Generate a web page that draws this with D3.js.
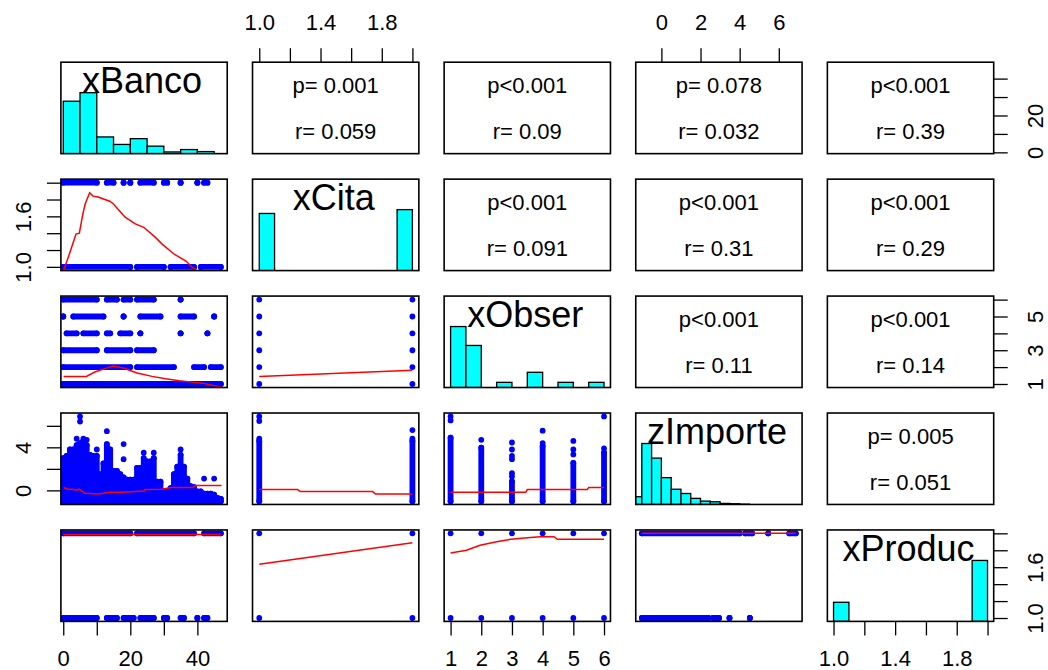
<!DOCTYPE html>
<html lang="es">
<head>
<meta charset="UTF-8">
<title>pairs.panels</title>
<script src="https://d3js.org/d3.v7.min.js"></script>
<style>
  body { margin: 0; background: #fff; }
  svg text { font-family: "Liberation Sans", Arial, sans-serif; fill: #000; }
</style>
</head>
<body>
<div id="grafico"></div>
<script>
const ancho = 1048, alto = 670;

const variables = ["xBanco", "xCita", "xObser", "zImporte", "xProduc"];

// rango visible de cada variable (usr de R)
const dominioBanco = [-0.7, 48.9];
const dominioCita = [0.956, 2.042];
const dominioObser = [0.79, 6.21];
const dominioImporte = [-1.31, 7.19];
const dominioProduc = [0.96, 2.04];
const dominios = [dominioBanco, dominioCita, dominioObser, dominioImporte, dominioProduc];

// histogramas: [desde, hasta, altura relativa]
const histBanco = [[0,5,0.86],[5,10,1],[10,15,0.274],[15,20,0.151],[20,25,0.246],[25,30,0.123],[30,35,0.028],[35,40,0.067],[40,45,0.034]];
const histCita = [[1,1.1,0.937],[1.9,2,1]];
const histObser = [[1,1.5,1],[1.5,2,0.69],[2.5,3,0.085],[3.5,4,0.25],[4.5,5,0.085],[5.5,6,0.085]];
const histImporte = [[-1.5,-1,0.127],[-1,-0.5,1],[-0.5,0,0.76],[0,0.5,0.44],[0.5,1,0.25],[1,1.5,0.18],[1.5,2,0.10],[2,2.5,0.055],[2.5,3,0.044],[3,3.5,0.017],[3.5,4,0.012],[4,4.5,0.005]];
const histProduc = [[1,1.1,0.314],[1.9,2,1]];
const histogramas = [histBanco, histCita, histObser, histImporte, histProduc];

// panel superior: [fila, columna, p, r]
const correlaciones = [
  [0,1,"p= 0.001","r= 0.059"],[0,2,"p<0.001","r= 0.09"],[0,3,"p= 0.078","r= 0.032"],[0,4,"p<0.001","r= 0.39"],
  [1,2,"p<0.001","r= 0.091"],[1,3,"p<0.001","r= 0.31"],[1,4,"p<0.001","r= 0.29"],
  [2,3,"p<0.001","r= 0.11"],[2,4,"p<0.001","r= 0.14"],
  [3,4,"p= 0.005","r= 0.051"]
];

// tramos horizontales de puntos: [y, x desde, x hasta]
const citaPorBanco = [[2,0,10],[2,13,15],[2,18,18],[2,20,20],[2,23,27],[2,30,31],[2,35,35],[2,40,40],[2,42,43],
  [1,0,20],[1,22,30],[1,32,39],[1,41,47]];
const obserPorBanco = [[6,0,10],[6,13,16],[6,18,20],[6,22,27],[6,35,35],
  [5,0,0],[5,3,12],[5,18,18],[5,23,29],[5,35,39],[5,45,45],
  [4,1,4],[4,6,10],[4,13,14],[4,17,20],[4,23,23],[4,35,35],[4,43,43],
  [3,0,10],[3,13,20],[3,22,27],
  [2,0,20],[2,22,33],[2,39,42],[2,44,47],
  [1,0,47]];
const producPorBanco = [[2,0,20],[2,22,39],[2,42,47],
  [1,0,10],[1,13,16],[1,18,21],[1,23,27],[1,30,31],[1,35,36],[1,40,40],[1,42,43]];
const producPorImporte = [[2,-1,4.0],[2,4.28,4.64],[2,5.46,5.46],[2,6.53,6.87],
  [1,-1,2.41],[1,2.64,2.95],[1,3.48,3.48],[1,4.52,4.52]];

// tramos verticales de puntos: [x, y desde, y hasta]
const importePorBanco = [[0,-1,3.0],[1,-1,3.2],[2,-1,3.8],[3,-1,3.8],[4,-1,4.2],[5,-1,4.4],[6,-1,4.6],[7,-1,4.2],
  [8,-1,3.3],[9,-1,3.2],[10,-1,3.2],[11,-1,1.5],[12,-1,2.5],[13,-1,4.3],[14,-1,3.8],[15,-1,1.8],[16,-1,1.8],
  [17,-1,1.5],[18,-1,1.2],[19,-1,1.0],[20,-1,1.0],[21,-1,1.0],[22,-1,2.1],[23,-1,2.1],[24,-1,3.0],[25,-1,2.7],
  [26,-1,2.7],[27,-1,3.0],[28,-1,0.8],[29,-1,0.8],[30,-1,-0.1],[31,-1,-0.1],[32,-1,0.2],[33,-1,1.5],[34,-1,2.2],
  [35,-1,3.3],[36,-1,2.2],[37,-1,1.1],[38,-1,0.4],[39,-1,0.3],[40,-1,-0.1],[41,-1,-0.1],[42,-1,-0.3],[43,-1,-0.3],
  [44,-1,-0.3],[45,-1,-0.4],[46,-1,-0.7],[47,-1,-0.8]];
const importePorCita = [[1,-1,4.6],[2,-1,4.6]];
const importePorObser = [[1,-1,4.9],[2,-1,3.97],[3,-1,0.83],[4,-1,4.13],[5,-1,2.56],[6,-1,3.5]];

// puntos sueltos: [x, y]
const importeBancoSueltos = [[5,6.87],[5,6.4],[4,4.8],[6,4.8],[7,4.7],[10,3.8],[13,5.5],[18,4.3],[18,2.9],[24,3.5],[27,3.5],[35,3.8],[42,1.1],[45,1.1]];
const importeCitaSueltos = [[1,6.87],[1,6.45],[1,4.8],[2,4.8],[2,5.6]];
const importeObserSueltos = [[1,6.87],[1,6.5],[2,4.7],[3,1.3],[3,1.6],[3,2.9],[3,3.2],[3,3.8],[3,4.45],[4,5.55],[4,4.4],[5,3.34],[5,3.8],[5,4.6],[6,6.87],[6,3.9]];
const obserPorCita = [[1,1],[1,2],[1,3],[1,4],[1,5],[1,6],[2,1],[2,2],[2,3],[2,4],[2,5],[2,6]];
const producPorCita = [[1,1],[1,2],[2,1],[2,2]];
const producPorObser = [[1,1],[2,1],[3,1],[4,1],[5,1],[6,1],[1,2],[2,2],[3,2],[4,2],[5,2],[6,2]];

// curvas suavizadas (lowess)
const curvaCitaBanco = [[0.1,0.96],[1.3,1.09],[2.8,1.27],[3.8,1.39],[4.8,1.40],[5.85,1.63],[6.56,1.75],[7.87,1.88],[8.88,1.84],[10.4,1.83],[12.4,1.80],[13.9,1.78],[14.9,1.75],[18.45,1.59],[21.5,1.51],[24.0,1.47],[27.5,1.35],[29.5,1.27],[33.1,1.15],[36.6,1.07],[38.6,0.99],[40.1,0.95]];
const curvaObserBanco = [[0.1,1.45],[6.9,1.45],[9.4,1.71],[12.4,1.91],[14.9,2.06],[17.9,1.95],[22.0,1.65],[26.5,1.45],[30.5,1.31],[34.6,1.19],[38.6,1.11],[41.6,1.05],[44.7,0.91],[47.7,0.79]];
const curvaObserCita = [[1,1.45],[2,1.81]];
const curvaImporteBanco = [[0.1,0.26],[1.3,0.11],[2.8,0.11],[3.8,0.01],[4.8,0.11],[6.4,-0.27],[10.4,-0.34],[13.9,-0.18],[17.4,-0.18],[24.0,-0.05],[24.5,0.07],[29.5,0.11],[32.1,0.26],[38.6,0.26],[39.6,0.45],[47.2,0.45]];
const curvaImporteCita = [[1,0.07],[1.25,0.07],[1.27,-0.11],[1.74,-0.11],[1.76,-0.34],[2,-0.34]];
const curvaImporteObser = [[1,-0.18],[3.45,-0.18],[3.5,0.07],[5.45,0.07],[5.5,0.26],[6,0.26]];
const curvaProducBanco = [[0,1.985],[47,1.985]];
const curvaProducCita = [[1,1.635],[2,1.89]];
const curvaProducObser = [[1,1.768],[1.52,1.80],[1.96,1.86],[2.5,1.90],[2.96,1.93],[3.6,1.95],[3.93,1.96],[4.37,1.96],[4.48,1.93],[6,1.93]];
const curvaProducImporte = [[-1,2.0],[6.87,2.0]];

// ejes exteriores
const ticksBanco = [0,10,20,30,40];
const ticksCita = [1.0,1.2,1.4,1.6,1.8,2.0];
const ticksObser = [1,2,3,4,5,6];
const ticksImporte = [0,2,4,6];
const ticksProduc = [1.0,1.2,1.4,1.6,1.8,2.0];

const etiqArribaCita = [1.0,1.4,1.8];
const etiqArribaImporte = [0,2,4,6];
const etiqAbajoBanco = [0,20,40];
const etiqAbajoObser = [1,2,3,4,5,6];
const etiqAbajoProduc = [1.0,1.4,1.8];
const etiqIzqCita = [1.0,1.6];
const etiqIzqImporte = [0,4];
const etiqDerBanco = [0,20];
const etiqDerObser = [1,3,5];
const etiqDerProduc = [1.0,1.6];

const azul = "#0000ff", rojo = "#ff0000", cian = "#00ffff";
const fuente = "'Liberation Sans', Arial, sans-serif";

const svg = d3.select("#grafico").append("svg")
  .attr("width", ancho).attr("height", alto)
  .style("background", "#fff");

const bandaX = d3.scaleBand().domain(d3.range(5)).range([60.9, 993.7]).paddingInner(0.132);
const bandaY = d3.scaleBand().domain(d3.range(5)).range([62.2, 621.4]).paddingInner(0.218);
const bw = bandaX.bandwidth(), bh = bandaY.bandwidth();

function escX(c) {
  return d3.scaleLinear().domain(dominios[c]).range([bandaX(c), bandaX(c) + bw]);
}
function escY(f) {
  return d3.scaleLinear().domain(dominios[f]).range([bandaY(f) + bh, bandaY(f)]);
}

const defs = svg.append("defs");
function panel(f, c) {
  const id = `clip-${f}-${c}`;
  defs.append("clipPath").attr("id", id).append("rect")
    .attr("x", bandaX(c)).attr("y", bandaY(f)).attr("width", bw).attr("height", bh);
  return svg.append("g").attr("clip-path", `url(#${id})`);
}
function marco(f, c) {
  svg.append("rect")
    .attr("x", bandaX(c)).attr("y", bandaY(f)).attr("width", bw).attr("height", bh)
    .attr("fill", "none").attr("stroke", "#000").attr("stroke-width", 1.6);
}

// diagonal: histogramas y nombres
variables.forEach((v, i) => {
  const g = panel(i, i);
  const x = escX(i);
  const y = d3.scaleLinear().domain([0, 1.5]).range([bandaY(i) + bh, bandaY(i)]);
  g.selectAll("rect").data(histogramas[i]).join("rect")
    .attr("x", d => x(d[0]))
    .attr("width", d => x(d[1]) - x(d[0]))
    .attr("y", d => y(d[2]))
    .attr("height", d => y(0) - y(d[2]))
    .attr("fill", cian).attr("stroke", "#000").attr("stroke-width", 1.3);
  svg.append("text")
    .attr("x", bandaX(i) + bw / 2 - 2).attr("y", bandaY(i) + 31)
    .attr("text-anchor", "middle").attr("font-size", 36)
    .text(v);
  marco(i, i);
});

// triangulo superior: p y r
correlaciones.forEach(([f, c, p, r]) => {
  const cx = bandaX(c) + bw / 2;
  svg.append("text").attr("x", cx).attr("y", bandaY(f) + 0.336 * bh)
    .attr("text-anchor", "middle").attr("font-size", 22).text(p);
  svg.append("text").attr("x", cx).attr("y", bandaY(f) + 0.842 * bh)
    .attr("text-anchor", "middle").attr("font-size", 22).text(r);
  marco(f, c);
});

// triangulo inferior: dispersion + lowess
const inferiores = [
  {f:1, c:0, h: citaPorBanco, curva: curvaCitaBanco},
  {f:2, c:0, h: obserPorBanco, curva: curvaObserBanco},
  {f:2, c:1, p: obserPorCita, curva: curvaObserCita},
  {f:3, c:0, v: importePorBanco, p: importeBancoSueltos, curva: curvaImporteBanco},
  {f:3, c:1, v: importePorCita, p: importeCitaSueltos, curva: curvaImporteCita},
  {f:3, c:2, v: importePorObser, p: importeObserSueltos, curva: curvaImporteObser},
  {f:4, c:0, h: producPorBanco, curva: curvaProducBanco},
  {f:4, c:1, p: producPorCita, curva: curvaProducCita},
  {f:4, c:2, p: producPorObser, curva: curvaProducObser},
  {f:4, c:3, h: producPorImporte, curva: curvaProducImporte}
];

const radio = 2.9;
inferiores.forEach(d => {
  const g = panel(d.f, d.c);
  const x = escX(d.c), y = escY(d.f);
  let segs = [];
  if (d.h) segs = d.h.map(t => [x(t[1]), y(t[0]), x(t[2]), y(t[0])]);
  if (d.v) segs = d.v.map(t => [x(t[0]), y(t[1]), x(t[0]), y(t[2])]);
  g.selectAll("line.tramo").data(segs).join("line").attr("class", "tramo")
    .attr("x1", s => s[0]).attr("y1", s => s[1]).attr("x2", s => s[2]).attr("y2", s => s[3])
    .attr("stroke", azul).attr("stroke-width", radio * 2).attr("stroke-linecap", "round");
  const extremos = segs.flatMap(s => [[s[0], s[1]], [s[2], s[3]]]);
  const sueltos = (d.p || []).map(t => [x(t[0]), y(t[1])]);
  g.selectAll("circle").data(extremos.concat(sueltos)).join("circle")
    .attr("cx", s => s[0]).attr("cy", s => s[1]).attr("r", radio).attr("fill", azul);
  g.append("path")
    .attr("d", d3.line().x(t => x(t[0])).y(t => y(t[1]))(d.curva))
    .attr("fill", "none").attr("stroke", rojo).attr("stroke-width", 1.5);
  marco(d.f, d.c);
});

// ejes
function formato(etiq, decimales) {
  const fm = decimales ? d3.format(".1f") : d3.format("d");
  return t => etiq.includes(t) ? fm(t) : "";
}
function estilo(g) {
  g.attr("font-size", 22).attr("font-family", fuente);
  g.select(".domain").remove();
  g.selectAll(".tick line").attr("stroke", "#000").attr("stroke-width", 1.3);
  g.selectAll(".tick text").attr("fill", "#000");
}
const largo = 14;

function ejeArriba(c, ticks, etiq, dec) {
  const g = svg.append("g").attr("transform", `translate(0,${bandaY(0)})`)
    .call(d3.axisTop(escX(c)).tickValues(ticks).tickFormat(formato(etiq, dec)).tickSize(largo).tickSizeOuter(0));
  estilo(g);
  g.selectAll(".tick text").attr("y", -32).attr("dy", null);
}
function ejeAbajo(c, ticks, etiq, dec) {
  const g = svg.append("g").attr("transform", `translate(0,${bandaY(4) + bh})`)
    .call(d3.axisBottom(escX(c)).tickValues(ticks).tickFormat(formato(etiq, dec)).tickSize(largo).tickSizeOuter(0));
  estilo(g);
  g.selectAll(".tick text").attr("y", 45).attr("dy", null);
}
function ejeIzq(f, ticks, etiq, dec) {
  const g = svg.append("g").attr("transform", `translate(${bandaX(0)},0)`)
    .call(d3.axisLeft(escY(f)).tickValues(ticks).tickFormat(formato(etiq, dec)).tickSize(largo).tickSizeOuter(0));
  estilo(g);
  g.selectAll(".tick text").attr("x", 0).attr("y", -30).attr("dy", null)
    .attr("text-anchor", "middle").attr("transform", "rotate(-90)");
}
function ejeDer(f, ticks, etiq, dec) {
  const g = svg.append("g").attr("transform", `translate(${bandaX(4) + bw},0)`)
    .call(d3.axisRight(escY(f)).tickValues(ticks).tickFormat(formato(etiq, dec)).tickSize(largo).tickSizeOuter(0));
  estilo(g);
  g.selectAll(".tick text").attr("x", 0).attr("y", 49).attr("dy", null)
    .attr("text-anchor", "middle").attr("transform", "rotate(-90)");
}

ejeArriba(1, ticksCita, etiqArribaCita, true);
ejeArriba(3, ticksImporte, etiqArribaImporte, false);
ejeAbajo(0, ticksBanco, etiqAbajoBanco, false);
ejeAbajo(2, ticksObser, etiqAbajoObser, false);
ejeAbajo(4, ticksProduc, etiqAbajoProduc, true);
ejeIzq(1, ticksCita, etiqIzqCita, true);
ejeIzq(3, ticksImporte, etiqIzqImporte, false);
ejeDer(0, ticksBanco, etiqDerBanco, false);
ejeDer(2, ticksObser, etiqDerObser, false);
ejeDer(4, ticksProduc, etiqDerProduc, true);
</script>
</body>
</html>
